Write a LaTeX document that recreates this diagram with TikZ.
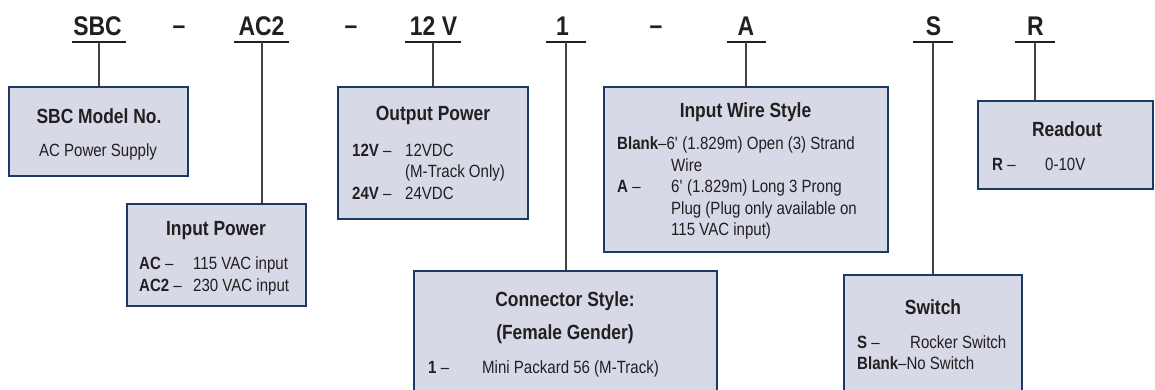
\documentclass[tikz,border=0pt]{standalone}
\usepackage{fontspec}
\setmainfont{Liberation Sans}[FakeStretch=0.85]
\usetikzlibrary{fit}
\definecolor{boxfill}{HTML}{D7D9E7}
\definecolor{boxline}{HTML}{1B3A66}
\definecolor{ink}{HTML}{231F20}
\begin{document}
\begin{tikzpicture}[x=1pt,y=-1pt,
  hdr/.style={inner sep=0, anchor=base, text=ink, font=\bfseries\fontsize{27}{30}\selectfont},
  ttl/.style={inner sep=0, anchor=base, text=ink, font=\bfseries\fontsize{20.5}{24}\selectfont},
  lbl/.style={inner sep=0, anchor=base west, text=ink, font=\fontsize{17.7}{20}\selectfont},
  box/.style={draw=boxline, fill=boxfill, line width=1.8pt, inner sep=0},
  uline/.style={draw=ink, line width=1.1pt},
  conn/.style={draw=ink!85, line width=1.1pt}]
\useasboundingbox (0,0) rectangle (1155,389);
% header codes
\node[hdr] (hSBC) at (97.5,35) {SBC};
\node[hdr] (d1) at (179,34) {–};
\node[hdr] (hAC2) at (261.5,35) {AC2};
\node[hdr] (d2) at (351,34) {–};
\node[hdr] (h12V) at (433.5,35) {12 V};
\node[hdr] (h1) at (562.5,35) {1};
\node[hdr] (d3) at (656,34) {–};
\node[hdr] (hA) at (746,35) {A};
\node[hdr] (hS) at (933.5,35) {S};
\node[hdr] (hR) at (1035.5,35) {R};
% underlines
\draw[uline] (72,42) -- (126,42);
\draw[uline] (234,42) -- (289,42);
\draw[uline] (405,42) -- (461,42);
\draw[uline] (546,42) -- (586,42);
\draw[uline] (727,42) -- (766,42);
\draw[uline] (913,42) -- (953,42);
\draw[uline] (1015,42) -- (1055,42);
\coordinate (cSBC) at (99,42);
\coordinate (cAC2) at (262,42);
\coordinate (c12V) at (433,42);
\coordinate (c1) at (566,42);
\coordinate (cA) at (746,42);
\coordinate (cS) at (933,42);
\coordinate (cR) at (1035,42);
% boxes
\node[box, fit={(9,87) (188,176)}] (bSBC) {};
\node[box, fit={(127,204) (306,306)}] (bIn) {};
\node[box, fit={(338,87) (528,219)}] (bOut) {};
\node[box, fit={(604,87) (888,252)}] (bWire) {};
\node[box, fit={(978,101) (1153,189)}] (bRead) {};
\node[box, fit={(414,271) (717,398)}] (bConn) {};
\node[box, fit={(844,275) (1022,398)}] (bSw) {};
% connectors
\draw[conn] (cSBC) -- (cSBC |- bSBC.north);
\draw[conn] (cAC2) -- (cAC2 |- bIn.north);
\draw[conn] (c12V) -- (c12V |- bOut.north);
\draw[conn] (c1) -- (c1 |- bConn.north);
\draw[conn] (cA) -- (cA |- bWire.north);
\draw[conn] (cS) -- (cS |- bSw.north);
\draw[conn] (cR) -- (cR |- bRead.north);
% SBC Model No.
\node[ttl] (tSBC) at (99,123) {SBC Model No.};
\node[lbl, anchor=base] (sSBC) at (98,156) {AC Power Supply};
% Input Power
\node[ttl] (tIn) at (216,235) {Input Power};
\node[lbl] (kIn1) at (139,269) {\textbf{AC} –};
\node[lbl] (vIn1) at (193,269) {115 VAC input};
\node[lbl] (kIn2) at (139,291) {\textbf{AC2} –};
\node[lbl] (vIn2) at (193,291) {230 VAC input};
% Output Power
\node[ttl] (tOut) at (433,120) {Output Power};
\node[lbl] (kOut1) at (352,156) {\textbf{12V} –};
\node[lbl] (vOut1) at (405,156) {12VDC};
\node[lbl] (vOut1b) at (405,177.5) {(M-Track Only)};
\node[lbl] (kOut2) at (352,199) {\textbf{24V} –};
\node[lbl] (vOut2) at (405,199) {24VDC};
% Input Wire Style
\node[ttl] (tWire) at (745.5,117) {Input Wire Style};
\node[lbl] (kW1) at (617,149) {\textbf{Blank}–6\textquotesingle{} (1.829m) Open (3) Strand};
\node[lbl] (vW1b) at (671,171) {Wire};
\node[lbl] (kW2) at (617,192.5) {\textbf{A} –};
\node[lbl] (vW2) at (671,192.5) {6\textquotesingle{} (1.829m) Long 3 Prong};
\node[lbl] (vW2b) at (671,214) {Plug (Plug only available on};
\node[lbl] (vW2c) at (671,235.5) {115 VAC input)};
% Readout
\node[ttl] (tRead) at (1067,136) {Readout};
\node[lbl] (kR) at (992,170) {\textbf{R} –};
\node[lbl] (vR) at (1045,170) {0-10V};
% Connector Style
\node[ttl] (tConn) at (565,306) {Connector Style:};
\node[ttl] (tConn2) at (565,339) {(Female Gender)};
\node[lbl] (kC) at (428,373) {\textbf{1} –};
\node[lbl] (vC) at (482,373) {Mini Packard 56 (M-Track)};
% Switch
\node[ttl] (tSw) at (933,314) {Switch};
\node[lbl] (kS1) at (857,348) {\textbf{S} –};
\node[lbl] (vS1) at (910,348) {Rocker Switch};
\node[lbl] (kS2) at (857,369) {\textbf{Blank}–No Switch};
\end{tikzpicture}
\end{document}
